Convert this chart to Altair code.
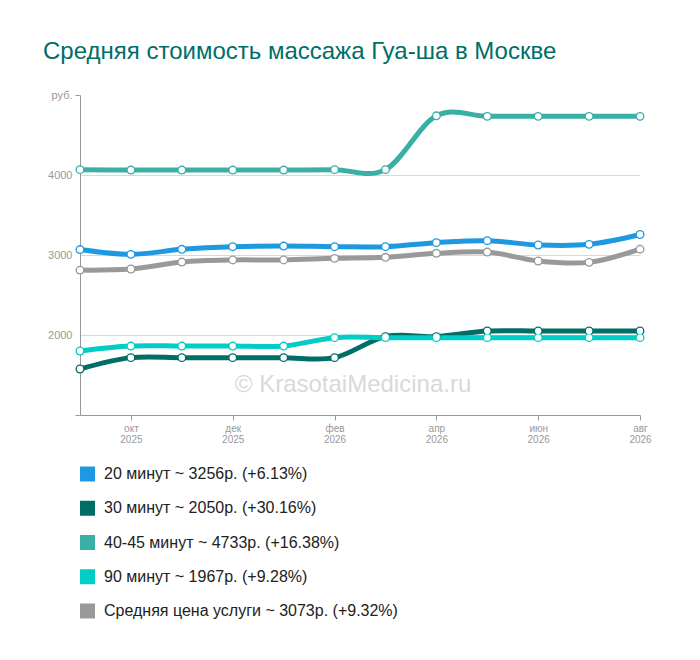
import pandas as pd
import altair as alt

# ── DATA ──────────────────────────────────────────────────────────────
months = ["сен 2025", "окт 2025", "ноя 2025", "дек 2025", "янв 2026", "фев 2026",
          "мар 2026", "апр 2026", "май 2026", "июн 2026", "июл 2026", "авг 2026"]
labeled_months = ["окт", "дек", "фев", "апр", "июн", "авг"]

series = ["20 минут", "30 минут", "40-45 минут", "90 минут", "Средняя цена услуги"]
colors = ["#1e98e0", "#006e66", "#3aafa5", "#00cdc5", "#999999"]
changes = [6.13, 30.16, 16.38, 9.28, 9.32]

price_20 = [3068, 3008, 3071, 3104, 3112, 3104, 3104, 3154, 3179, 3125, 3133, 3256]
price_30 = [1575, 1717, 1717, 1717, 1717, 1717, 1980, 1980, 2050, 2050, 2050, 2050]
price_40 = [4067, 4062, 4062, 4062, 4062, 4067, 4067, 4740, 4733, 4733, 4733, 4733]
price_90 = [1800, 1862, 1862, 1862, 1862, 1967, 1967, 1967, 1967, 1967, 1967, 1967]
price_avg = [2811, 2825, 2912, 2938, 2938, 2958, 2971, 3021, 3037, 2925, 2908, 3073]

watermark = "© KrasotaiMedicina.ru"
title_text = "Средняя стоимость массажа Гуа-ша в Москве"

all_prices = [price_20, price_30, price_40, price_90, price_avg]
legend_labels = [f"{name} ~ {vals[-1]}р. (+{chg:.2f}%)"
                 for name, vals, chg in zip(series, all_prices, changes)]

rows = []
for label, vals in zip(legend_labels, all_prices):
    for m, v in zip(months, vals):
        rows.append({"Месяц": m, "Цена": v, "Услуга": label})
df = pd.DataFrame(rows)
legend_df = pd.DataFrame({"Услуга": legend_labels})

# ── AXES ──────────────────────────────────────────────────────────────
month_test = "indexof(" + str(labeled_months) + ", split(datum.value, ' ')[0]) >= 0"

x_axis = alt.Axis(
    title=None,
    labelExpr=f"{month_test} ? split(datum.value, ' ') : ''",
    labelAngle=0, labelFontSize=10, labelColor="#999999", labelLineHeight=11,
    labelPadding=3, tickSize=5,
    tickColor={"condition": {"test": month_test, "value": "#999999"}, "value": "transparent"},
    domainColor="#999999", gridColor="#d9d9d9",
)

y_axis = alt.Axis(
    title=None, values=[1000, 2000, 3000, 4000, 5000],
    labelExpr="datum.value == 5000 ? 'руб.' : (datum.value == 1000 ? '' : datum.label)",
    format="d", labelFontSize=11, labelColor="#999999", labelPadding=3, tickSize=5,
    tickColor={"condition": {"test": "datum.value == 1000 || datum.value == 5000",
                             "value": "#999999"}, "value": "transparent"},
    domainColor="#999999",
    gridColor={"condition": {"test": "datum.value == 1000 || datum.value == 5000",
                             "value": "transparent"}, "value": "#d9d9d9"},
)

x_enc = alt.X("Месяц:O", sort=months, axis=x_axis,
              scale=alt.Scale(type="point", padding=0))
y_enc = alt.Y("Цена:Q", axis=y_axis, scale=alt.Scale(domain=[1000, 5000], nice=False))
color_scale = alt.Scale(domain=legend_labels, range=colors)
color_enc = alt.Color("Услуга:N", scale=color_scale, sort=legend_labels, legend=None)

# ── PRICE LINES ───────────────────────────────────────────────────────
lines = alt.Chart(df).mark_line(interpolate="cardinal", strokeWidth=5).encode(
    x=x_enc, y=y_enc, color=color_enc,
)
# coloured ring = filled circle with a white dot on top
rings = alt.Chart(df).mark_circle(size=80, opacity=1).encode(
    x=x_enc, y=y_enc, color=color_enc,
)
dots = alt.Chart(df).mark_circle(size=40, opacity=1, color="white").encode(
    x=x_enc, y=y_enc,
)
prices = alt.layer(lines, rings, dots)

# ── LEGEND (drawn below the plot) ─────────────────────────────────────
legend_y = alt.Y("Услуга:N", sort=legend_labels, axis=None,
                 scale=alt.Scale(type="point", range=[379, 516], padding=0))
legend_boxes = alt.Chart(legend_df).mark_square(size=225, opacity=1).encode(
    x=alt.value(7.5), y=legend_y, color=color_enc,
)
legend_text = alt.Chart(legend_df).mark_text(
    align="left", baseline="middle", fontSize=16, color="#222222"
).encode(x=alt.value(24), y=legend_y, text="Услуга:N")
legend_layer = alt.layer(legend_boxes, legend_text)

mark_wm = alt.Chart(pd.DataFrame({"t": [watermark]})).mark_text(
    fontSize=24, color="#d9d9d9", align="center", baseline="middle"
).encode(text="t:N", x=alt.value(273), y=alt.value(290))

chart = alt.layer(mark_wm, prices, legend_layer).resolve_scale(
    y="independent"
).properties(
    width=560, height=320,
    autosize=alt.AutoSizeParams(type="none"),
    padding={"left": 72, "top": 87, "right": 52, "bottom": 237},
    title=alt.TitleParams(
        title_text, anchor="start", frame="group", dx=-37, offset=6,
        fontSize=24, fontWeight="normal", color="#006e68", baseline="alphabetic",
    ),
).configure(font="Liberation Sans").configure_view(stroke=None)

chart.save("out.html", embed_options={"renderer": "svg", "actions": False})
